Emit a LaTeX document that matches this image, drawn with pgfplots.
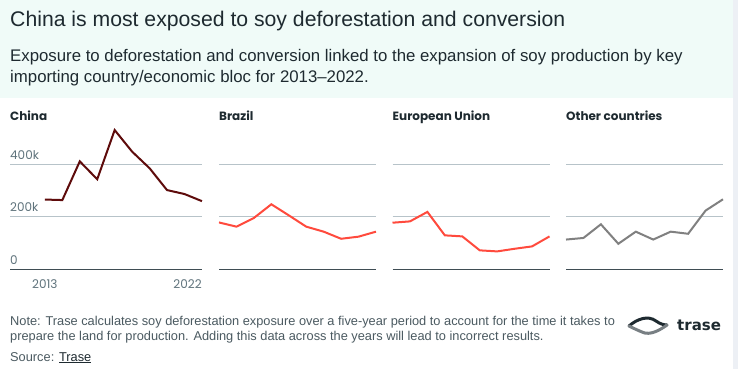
\documentclass[border=0pt]{standalone}
\usepackage{fontspec}
\usepackage{pgfplots}
\pgfplotsset{compat=1.18}
\setmainfont{Liberation Sans}
\newfontfamily\popfont{Poppins}
\newfontfamily\logofont{DejaVu Sans}
\definecolor{mint}{HTML}{F0FBF8}
\definecolor{strip}{HTML}{EDF0F5}
\definecolor{titlecol}{HTML}{1E2A30}
\definecolor{tickcol}{HTML}{5F737C}
\definecolor{gridcol}{HTML}{B7C3C9}
\definecolor{basecol}{HTML}{3F4D54}
\definecolor{notecol}{HTML}{4B5A61}
\definecolor{chinacol}{HTML}{5E0B0B}
\definecolor{redcol}{HTML}{FF4A3D}
\definecolor{greycol}{HTML}{808080}
\pgfplotsset{
  panel/.style={
    scale only axis, anchor=south west,
    width=157pt, height=147.4pt,
    xmin=2013, xmax=2022, ymin=0, ymax=560000,
    enlargelimits=false, clip=false,
    axis line style={draw=none},
    major tick length=0pt,
    ytick={200000,400000}, yticklabels={,},
    ymajorgrids, grid style={draw=gridcol, line width=0.8pt},
    extra y ticks={0}, extra y tick labels={},
    extra y tick style={grid style={draw=basecol, line width=1pt}},
    xtick=\empty,
    scaled y ticks=false,
  },
}
\begin{document}
\begin{tikzpicture}
\fill[white] (0pt,0pt) rectangle (738pt,369pt);
\fill[mint] (0pt,271pt) rectangle (733pt,369pt);
\fill[strip] (733pt,0pt) rectangle (738pt,369pt);
% titles
\node[anchor=base west, inner sep=0, text=titlecol, font=\fontsize{21.2}{24}\selectfont] at (10pt,342pt) {China is most exposed to soy deforestation and conversion};
\node[anchor=base west, inner sep=0, text=titlecol, font=\fontsize{16.8}{20}\selectfont] at (10pt,307pt) {Exposure to deforestation and conversion linked to the expansion of soy production by key};
\node[anchor=base west, inner sep=0, text=titlecol, font=\fontsize{16.8}{20}\selectfont] at (10pt,286pt) {importing country/economic bloc for 2013--2022.};
% panel titles
\foreach \px/\name in {10/China, 219/Brazil, 392.5/European Union, 566/Other countries}
  \node[anchor=base west, inner sep=0, text=titlecol, font=\popfont\bfseries\fontsize{12}{14}\selectfont] at (\px pt,248pt) {\name};
% China
\begin{axis}[panel, at={(10pt,99.7pt)}, width=191.9pt, xmin=2011,
  yticklabels={200k,400k},
  yticklabel style={anchor=south west, inner sep=0pt, yshift=4.5pt, text=tickcol, font=\popfont\fontsize{12}{14}\selectfont},
  extra y tick labels={0},
  xtick={2013}, xticklabels={2013},
  xticklabel style={anchor=north, inner sep=0pt, yshift=-10pt, text=tickcol, font=\popfont\fontsize{12}{14}\selectfont},
  extra x ticks={2022}, extra x tick labels={2022},
  extra x tick style={xticklabel style={anchor=north east}},
]
\addplot[chinacol, line width=2pt] coordinates {(2013,265000)(2014,263000)(2015,410000)(2016,342000)(2017,529000)(2018,447000)(2019,384000)(2020,301000)(2021,286000)(2022,259000)};
\end{axis}
% Brazil
\begin{axis}[panel, at={(219pt,99.7pt)}]
\addplot[redcol, line width=2pt] coordinates {(2013,178000)(2014,162000)(2015,195000)(2016,247000)(2017,205000)(2018,162000)(2019,143000)(2020,116000)(2021,124000)(2022,143000)};
\end{axis}
% EU
\begin{axis}[panel, at={(392.5pt,99.7pt)}]
\addplot[redcol, line width=2pt] coordinates {(2013,177000)(2014,182000)(2015,218000)(2016,129000)(2017,125000)(2018,72000)(2019,68000)(2020,78000)(2021,87000)(2022,125000)};
\end{axis}
% Others
\begin{axis}[panel, at={(566pt,99.7pt)}]
\addplot[greycol, line width=2pt] coordinates {(2013,113000)(2014,119000)(2015,171000)(2016,97000)(2017,143000)(2018,113000)(2019,143000)(2020,135000)(2021,223000)(2022,266000)};
\end{axis}
% note
\node[anchor=base west, inner sep=0, text=notecol, font=\fontsize{12.8}{14}\selectfont] at (10pt,43pt) {Note: Trase calculates soy deforestation exposure over a five-year period to account for the time it takes to};
\node[anchor=base west, inner sep=0, text=notecol, font=\fontsize{12.8}{14}\selectfont] at (10pt,28pt) {prepare the land for production. Adding this data across the years will lead to incorrect results.};
\node[anchor=base west, inner sep=0, text=notecol, font=\fontsize{12.8}{14}\selectfont] at (10pt,8pt) {Source: \textcolor{titlecol}{\underline{Trase}}};
% logo
\draw[titlecol, line width=3pt, line cap=round] (629pt,43pt) .. controls (637pt,50pt) and (648pt,54pt) .. (656pt,48pt) .. controls (660pt,45pt) and (664pt,44pt) .. (667pt,44pt);
\draw[titlecol!60, line width=3pt, line cap=round] (629pt,43pt) .. controls (633pt,41pt) and (637pt,39pt) .. (642pt,37pt) .. controls (650pt,33pt) and (660pt,39pt) .. (667pt,44pt);
\node[anchor=base west, inner sep=0, text=titlecol, font=\logofont\bfseries\fontsize{15}{18}\selectfont] at (677pt,38.5pt) {trase};
\end{tikzpicture}
\end{document}
